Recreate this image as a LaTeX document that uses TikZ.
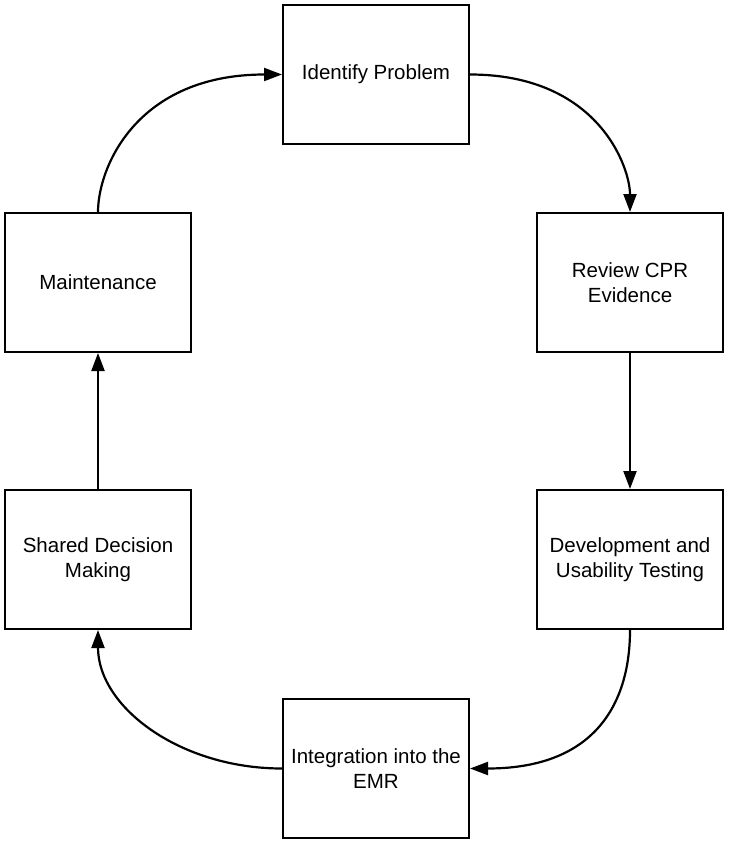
\documentclass[tikz,border=0pt]{standalone}
\usepackage{fontspec}
\setmainfont{Liberation Sans}
\usetikzlibrary{arrows.meta}
\begin{document}
\begin{tikzpicture}[x=1pt,y=-1pt,
  box/.style={draw=black, line width=2pt, rectangle, minimum width=186pt, minimum height=139pt,
    align=center, inner sep=0pt, font=\fontsize{20.5}{25}\selectfont},
  arr/.style={draw=black, line width=2.2pt, -{Triangle[length=18pt,width=13pt]}}]
\useasboundingbox (0,0) rectangle (730,845);
\fill[white] (0,0) rectangle (730,845);
\node[box] (ident) at (376,74.5) {Identify Problem};
\node[box] (review) at (630,282.5) {Review CPR\\Evidence};
\node[box] (dev) at (630,559.5) {Development and\\Usability Testing};
\node[box] (integ) at (376,768.5) {Integration into the\\EMR};
\node[box] (shared) at (98,559.5) {Shared Decision\\Making};
\node[box] (maint) at (98,282.5) {Maintenance};
\draw[arr] (maint.north) .. controls +(0,-45) and +(-145,0) .. (ident.west);
\draw[arr] (ident.east) .. controls +(128,0) and +(0,-45) .. (review.north);
\draw[arr] (review.south) -- (dev.north);
\draw[arr] (dev.south) .. controls +(0,70) and +(128,0) .. (integ.east);
\draw[arr] (integ.west) .. controls +(-102,0) and +(0,77) .. (shared.south);
\draw[arr] (shared.north) -- (maint.south);
\end{tikzpicture}
\end{document}
